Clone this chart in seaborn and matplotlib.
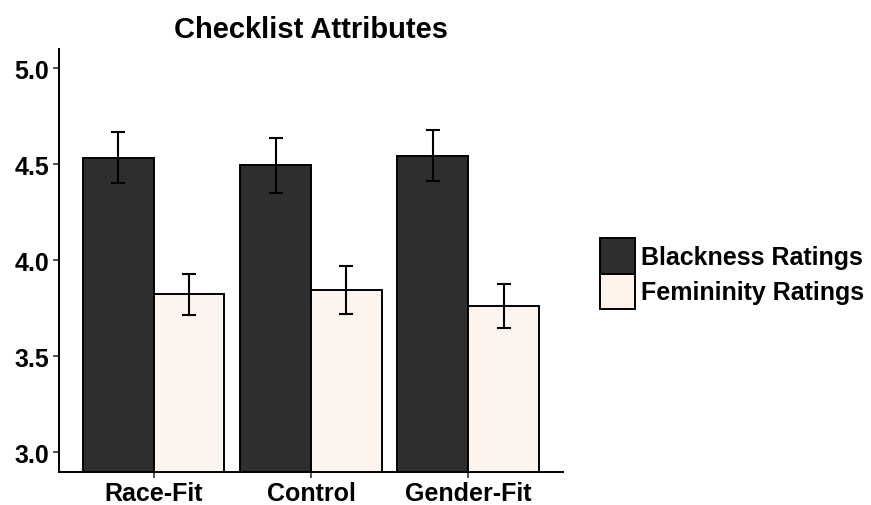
import matplotlib
matplotlib.use("Agg")
import matplotlib.pyplot as plt
from matplotlib.patches import Patch
import seaborn as sns
import pandas as pd

conditions = ["Race-Fit", "Control", "Gender-Fit"]
measures = ["Blackness Ratings", "Femininity Ratings"]
blackness_mean = [4.535, 4.496, 4.545]
blackness_se = [0.134, 0.143, 0.133]
femininity_mean = [3.823, 3.845, 3.764]
femininity_se = [0.105, 0.125, 0.115]
yticks = [3.0, 3.5, 4.0, 4.5, 5.0]
palette = {"Blackness Ratings": "#2E2E2E", "Femininity Ratings": "#FFF3EC"}

df = pd.DataFrame({
    "Condition": conditions * 2,
    "Measure": [measures[0]] * 3 + [measures[1]] * 3,
    "Mean": blackness_mean + femininity_mean,
    "SE": blackness_se + femininity_se,
})

sns.set_theme(style="ticks")
plt.rcParams["font.family"] = ["Liberation Sans", "DejaVu Sans"]
plt.rcParams["font.weight"] = "bold"
plt.rcParams["text.color"] = "black"

fig = plt.figure(figsize=(8.71, 5.06), dpi=100)
ax = fig.add_axes([0.068, 0.066, 0.578, 0.835])

sns.barplot(data=df, x="Condition", y="Mean", hue="Measure", order=conditions,
            hue_order=measures, palette=palette, width=0.9, errorbar=None,
            edgecolor="black", linewidth=1.4, ax=ax, legend=False)

# standard-error bars at the centre of each bar
for container, m in zip(ax.containers, measures):
    sub = df[df["Measure"] == m].set_index("Condition").loc[conditions]
    xs = [p.get_x() + p.get_width() / 2 for p in container.patches]
    ax.errorbar(xs, sub["Mean"].values, yerr=sub["SE"].values, fmt="none",
                ecolor="black", elinewidth=1.5, capsize=4.8, capthick=1.5, zorder=5)

ax.set_ylim(2.9, 5.1)
ax.set_xlim(-0.6, 2.6)
ax.set_yticks(yticks)
ax.set_yticklabels([f"{v:.1f}" for v in yticks])
ax.set_xlabel("")
ax.set_ylabel("")
ax.set_title("Checklist Attributes", fontsize=21, fontweight="bold", pad=8.5,
             color="black")
for side in ["top", "right"]:
    ax.spines[side].set_visible(False)
for side in ["left", "bottom"]:
    ax.spines[side].set_linewidth(1.4)
    ax.spines[side].set_color("black")
ax.tick_params(axis="both", labelsize=18, length=4, width=1.2, color="#333333",
               labelcolor="black", pad=3)
for lab in ax.get_xticklabels() + ax.get_yticklabels():
    lab.set_fontweight("bold")

handles = [Patch(facecolor=palette[m], edgecolor="black", linewidth=1.4) for m in measures]
leg = fig.legend(handles, measures, loc="center left", bbox_to_anchor=(0.689, 0.4575),
                 frameon=False, fontsize=18, handlelength=1.4, handleheight=1.78,
                 labelspacing=0.0, handletextpad=0.25, borderpad=0, borderaxespad=0)
for t in leg.get_texts():
    t.set_fontweight("bold")

fig.savefig("out.png", dpi=100)
